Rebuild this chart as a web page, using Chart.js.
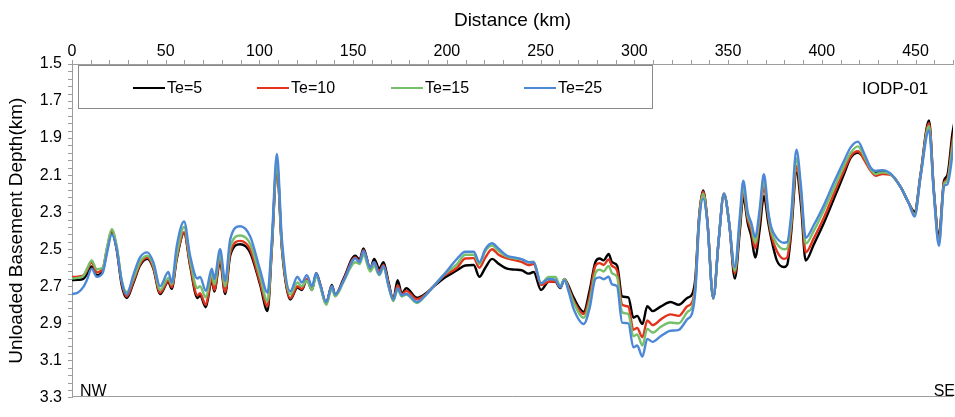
<!DOCTYPE html>
<html>
<head>
<meta charset="utf-8">
<title>Unloaded basement depth – IODP-01</title>
<script src="https://cdn.jsdelivr.net/npm/chart.js@4.4.1/dist/chart.umd.min.js"></script>
<style>
  html, body { margin: 0; padding: 0; background: #ffffff; }
  canvas { display: block; }
</style>
</head>
<body>
<canvas id="profile" width="955" height="417"></canvas>
<script>
// Distance along the profile (km)
const distanceKm = [
  0, 3, 6, 8, 10.5, 13.2, 16.4, 18.7, 21.2, 23.8, 26.5, 29.2, 32.7, 36.3, 40.2, 43.4, 47.0,
  51.4, 53.2, 55.9, 59.8, 63.0, 66.9, 68.3, 71.4, 74.6, 75.9, 79.0, 81.7, 84.4, 89.7, 95.0,
  100.4, 104.3, 106.6, 109.3, 112.0, 116.4, 120.3, 122.6, 125.3, 128.0, 130.3, 132.4, 135.6,
  138.6, 140.4, 144.9, 151.1, 153.4, 155.5, 159.1, 161.2, 163.9, 166.2, 168.9, 171.4, 173.7,
  176.0, 178.3, 184.0, 188.5, 192.9, 198.2, 205.4, 209.8, 214.3, 217.3, 220.5, 224.1, 227.6,
  232.1, 236.5, 240.1, 243.6, 246.3, 250.2, 254.3, 257.9, 260.5, 262.7, 265.0, 267.7, 273.0,
  276.2, 279.2, 281.5, 283.6, 286.3, 288.1, 290.8, 293.5, 296.8, 299.5, 301.5, 304.3, 306.9,
  309.8, 314.0, 319.3, 323.7, 328.2, 330.9, 332.6, 334.5, 336.7, 338.9, 342.1, 345.0, 347.8,
  350.6, 353.6, 356.3, 358.1, 360.5, 362.4, 364.5, 366.8, 369.1, 371.5, 373.0, 376.0, 379.8,
  381.5, 383.6, 386.5, 388.9, 391.4, 395.8, 401.1, 406.5, 411.8, 415.4, 419.3, 422.5, 426.1,
  428.7, 432.3, 436.7, 442.1, 446.5, 449.5, 452.7, 457.2, 459.8, 462.5, 465.2, 467.0, 469.7, 471.0
];

// Unloaded basement depth (km) for each elastic thickness Te
const te5 = [
  2.667, 2.665, 2.660, 2.635, 2.593, 2.640, 2.614, 2.505, 2.412, 2.500, 2.693, 2.763, 2.684, 2.588, 2.552, 2.605, 2.742,
  2.676, 2.714, 2.552, 2.412, 2.588, 2.763, 2.750, 2.813, 2.667, 2.728, 2.566, 2.742, 2.535, 2.473, 2.517,
  2.693, 2.834, 2.500, 2.051, 2.500, 2.772, 2.707, 2.720, 2.665, 2.720, 2.630, 2.690, 2.795,
  2.693, 2.746, 2.658, 2.535, 2.556, 2.496, 2.605, 2.552, 2.605, 2.570, 2.680, 2.772, 2.667,
  2.740, 2.710, 2.762, 2.740, 2.702, 2.658, 2.614, 2.588, 2.585, 2.649, 2.600, 2.552, 2.578,
  2.605, 2.610, 2.614, 2.632, 2.623, 2.720, 2.676, 2.676, 2.710, 2.662, 2.700, 2.763, 2.838,
  2.720, 2.570, 2.550, 2.560, 2.526, 2.570, 2.588, 2.755, 2.760, 2.870, 2.860, 2.904, 2.808,
  2.834, 2.810, 2.785, 2.800, 2.763, 2.742, 2.650, 2.330, 2.183, 2.340, 2.765, 2.450, 2.200,
  2.360, 2.658, 2.400, 2.218, 2.360, 2.430, 2.545, 2.400, 2.214, 2.360, 2.440, 2.560, 2.596,
  2.585, 2.420, 2.086, 2.260, 2.561, 2.473, 2.359, 2.227, 2.095, 2.007, 1.980, 2.007, 2.068,
  2.086, 2.077, 2.095, 2.165, 2.253, 2.297, 2.095, 1.805, 2.183, 2.430, 2.130, 2.100, 1.875, 1.800
];
const te10 = [
  2.650, 2.648, 2.642, 2.615, 2.570, 2.625, 2.605, 2.495, 2.400, 2.490, 2.680, 2.755, 2.675, 2.580, 2.545, 2.600, 2.735,
  2.670, 2.705, 2.545, 2.408, 2.580, 2.750, 2.738, 2.800, 2.655, 2.720, 2.555, 2.730, 2.520, 2.455, 2.500,
  2.680, 2.808, 2.490, 2.045, 2.490, 2.765, 2.700, 2.715, 2.660, 2.715, 2.635, 2.690, 2.790,
  2.700, 2.750, 2.665, 2.545, 2.565, 2.505, 2.600, 2.570, 2.620, 2.585, 2.690, 2.775, 2.695,
  2.745, 2.725, 2.770, 2.745, 2.700, 2.645, 2.600, 2.550, 2.548, 2.600, 2.545, 2.500, 2.530,
  2.550, 2.560, 2.570, 2.585, 2.580, 2.693, 2.676, 2.675, 2.705, 2.662, 2.710, 2.780, 2.850,
  2.750, 2.590, 2.575, 2.585, 2.555, 2.590, 2.615, 2.800, 2.810, 2.935, 2.925, 2.975, 2.885,
  2.910, 2.880, 2.852, 2.860, 2.808, 2.785, 2.680, 2.340, 2.190, 2.340, 2.765, 2.450, 2.200,
  2.360, 2.630, 2.370, 2.190, 2.340, 2.400, 2.495, 2.350, 2.165, 2.330, 2.420, 2.510, 2.552,
  2.545, 2.390, 2.051, 2.220, 2.517, 2.440, 2.330, 2.200, 2.077, 1.998, 1.971, 2.016, 2.077,
  2.103, 2.094, 2.098, 2.165, 2.253, 2.310, 2.100, 1.820, 2.190, 2.450, 2.140, 2.120, 1.920, 1.840
];
const te15 = [
  2.658, 2.655, 2.645, 2.605, 2.561, 2.608, 2.600, 2.490, 2.392, 2.480, 2.665, 2.732, 2.660, 2.568, 2.535, 2.585, 2.720,
  2.655, 2.690, 2.530, 2.380, 2.560, 2.710, 2.700, 2.760, 2.630, 2.690, 2.530, 2.700, 2.490, 2.426, 2.470,
  2.650, 2.781, 2.480, 2.030, 2.480, 2.745, 2.680, 2.700, 2.670, 2.720, 2.645, 2.700, 2.800,
  2.715, 2.755, 2.675, 2.570, 2.580, 2.530, 2.620, 2.590, 2.640, 2.600, 2.700, 2.780, 2.720,
  2.755, 2.745, 2.790, 2.750, 2.700, 2.640, 2.580, 2.530, 2.530, 2.580, 2.510, 2.480, 2.510,
  2.540, 2.550, 2.555, 2.570, 2.567, 2.684, 2.650, 2.650, 2.700, 2.660, 2.720, 2.790, 2.870,
  2.780, 2.630, 2.610, 2.620, 2.590, 2.630, 2.650, 2.840, 2.850, 2.970, 2.960, 3.020, 2.930,
  2.950, 2.920, 2.896, 2.900, 2.840, 2.810, 2.700, 2.350, 2.200, 2.350, 2.765, 2.450, 2.200,
  2.360, 2.615, 2.350, 2.165, 2.320, 2.375, 2.465, 2.320, 2.130, 2.310, 2.400, 2.470, 2.500,
  2.495, 2.360, 2.010, 2.190, 2.470, 2.400, 2.290, 2.170, 2.050, 1.980, 1.945, 1.998, 2.068,
  2.094, 2.085, 2.095, 2.165, 2.253, 2.315, 2.105, 1.835, 2.200, 2.470, 2.150, 2.130, 1.950, 1.860
];
const te25 = [
  2.742, 2.735, 2.705, 2.665, 2.605, 2.649, 2.627, 2.520, 2.420, 2.495, 2.672, 2.745, 2.640, 2.544, 2.517, 2.570, 2.700,
  2.623, 2.680, 2.482, 2.350, 2.535, 2.658, 2.650, 2.725, 2.605, 2.660, 2.500, 2.670, 2.447, 2.376, 2.430,
  2.614, 2.735, 2.450, 1.986, 2.450, 2.728, 2.649, 2.680, 2.640, 2.700, 2.630, 2.690, 2.785,
  2.700, 2.745, 2.670, 2.550, 2.570, 2.510, 2.600, 2.570, 2.635, 2.590, 2.700, 2.772, 2.710,
  2.750, 2.740, 2.785, 2.750, 2.700, 2.640, 2.552, 2.514, 2.514, 2.570, 2.500, 2.468, 2.497,
  2.535, 2.545, 2.555, 2.570, 2.570, 2.684, 2.660, 2.665, 2.705, 2.668, 2.730, 2.825, 2.904,
  2.816, 2.660, 2.652, 2.662, 2.649, 2.690, 2.700, 2.896, 2.900, 3.030, 3.020, 3.080, 2.984,
  3.000, 2.970, 2.940, 2.935, 2.878, 2.843, 2.720, 2.370, 2.227, 2.350, 2.765, 2.450, 2.200,
  2.360, 2.596, 2.320, 2.130, 2.300, 2.359, 2.435, 2.290, 2.095, 2.300, 2.380, 2.440, 2.465,
  2.462, 2.320, 1.963, 2.160, 2.438, 2.368, 2.262, 2.139, 2.024, 1.950, 1.919, 1.980, 2.060,
  2.077, 2.073, 2.092, 2.165, 2.253, 2.324, 2.110, 1.857, 2.200, 2.482, 2.160, 2.150, 1.990, 1.880
];

const seriesLabels = ['Te=5', 'Te=10', 'Te=15', 'Te=25'];
const seriesValues = [te5, te10, te15, te25];
const seriesColors = ['#000000', '#E2341D', '#77C06B', '#4C88D6'];

// Axis ticks
const xTickValues = [0, 50, 100, 150, 200, 250, 300, 350, 400, 450];
const yTickValues = [1.5, 1.7, 1.9, 2.1, 2.3, 2.5, 2.7, 2.9, 3.1, 3.3];
const xMinorStep = 10;
const yMinorStep = 0.04;

const FONT = '"Liberation Sans", Arial, Helvetica, sans-serif';
const AXIS_GRAY = '#9d9d9d';

// Minor/major tick marks, lower frame line, inset legend and corner labels
const decorations = {
  id: 'decorations',
  afterDraw(chart) {
    const { ctx, chartArea: a } = chart;
    const xs = chart.scales.x, ys = chart.scales.y;
    ctx.save();
    ctx.strokeStyle = AXIS_GRAY;
    ctx.lineWidth = 1;
    ctx.beginPath();
    for (let v = xs.min; v <= xs.max + 1e-9; v += xMinorStep) {
      const px = Math.round(xs.getPixelForValue(v)) + 0.5;
      ctx.moveTo(px, a.top);
      ctx.lineTo(px, a.top - 4);
    }
    const nY = Math.round((ys.max - ys.min) / yMinorStep);
    for (let i = 0; i <= nY; i++) {
      const py = Math.round(ys.getPixelForValue(ys.min + i * yMinorStep)) + 0.5;
      ctx.moveTo(a.left, py);
      ctx.lineTo(a.left - 4, py);
    }
    const by = Math.round(a.bottom) - 0.5;
    ctx.moveTo(a.left, by);
    ctx.lineTo(a.right, by);
    ctx.stroke();

    // legend box
    ctx.strokeStyle = '#8a8a8a';
    ctx.strokeRect(78.5, 65.5, 574, 43);
    const legendX = [133, 257, 391, 524];
    ctx.font = '16px ' + FONT;
    ctx.textBaseline = 'middle';
    ctx.textAlign = 'left';
    chart.data.datasets.forEach((ds, i) => {
      const lx = legendX[i];
      ctx.strokeStyle = ds.borderColor;
      ctx.lineWidth = 2;
      ctx.beginPath();
      ctx.moveTo(lx, 88);
      ctx.lineTo(lx + 32, 88);
      ctx.stroke();
      ctx.fillStyle = '#000';
      ctx.fillText(ds.label, lx + 34, 89);
    });

    // profile name and direction labels
    ctx.fillStyle = '#000';
    ctx.font = '17px ' + FONT;
    ctx.fillText('IODP-01', 862, 89);
    ctx.font = '16px ' + FONT;
    ctx.fillText('NW', 80, 392);
    ctx.textAlign = 'right';
    ctx.fillText('SE', 955, 392);
    ctx.restore();
  }
};

const datasets = seriesLabels.map((label, k) => ({
  label,
  data: distanceKm.map((d, i) => ({ x: d, y: seriesValues[k][i] })),
  borderColor: seriesColors[k],
  backgroundColor: seriesColors[k],
  borderWidth: 2.4,
  pointRadius: 0,
  fill: false,
  cubicInterpolationMode: 'monotone',
  order: seriesLabels.length - k
}));

new Chart(document.getElementById('profile'), {
  type: 'line',
  data: { datasets },
  options: {
    responsive: false,
    animation: false,
    layout: { padding: { left: 0, top: 0, right: 2, bottom: 12 } },
    plugins: { legend: { display: false }, tooltip: { enabled: false } },
    scales: {
      x: {
        type: 'linear',
        position: 'top',
        min: 0,
        max: 470,
        afterBuildTicks: s => { s.ticks = xTickValues.map(v => ({ value: v })); },
        afterFit: s => { s.height = 64; },
        grid: { display: true, drawOnChartArea: false, drawTicks: false },
        border: { display: true, color: AXIS_GRAY, width: 1 },
        ticks: {
          font: { family: FONT, size: 16 },
          color: '#000',
          padding: 3,
          maxRotation: 0,
          autoSkip: false,
          callback: v => String(v)
        },
        title: {
          display: true,
          text: 'Distance (km)',
          color: '#000',
          font: { family: FONT, size: 19, lineHeight: 1.2 },
          padding: { top: 9, bottom: 0 }
        }
      },
      y: {
        type: 'linear',
        reverse: true,
        min: 1.5,
        max: 3.3,
        afterBuildTicks: s => { s.ticks = yTickValues.map(v => ({ value: v })); },
        afterFit: s => { s.width = 72; },
        grid: { display: true, drawOnChartArea: false, drawTicks: false },
        border: { display: true, color: AXIS_GRAY, width: 1 },
        ticks: {
          font: { family: FONT, size: 16 },
          color: '#000',
          padding: 10,
          autoSkip: false,
          callback: v => Number(v).toFixed(1)
        },
        title: {
          display: true,
          text: 'Unloaded Basement Depth(km)',
          color: '#000',
          font: { family: FONT, size: 19, lineHeight: 1.2 },
          padding: { top: 5, bottom: 0 }
        }
      }
    }
  },
  plugins: [decorations]
});
</script>
</body>
</html>
